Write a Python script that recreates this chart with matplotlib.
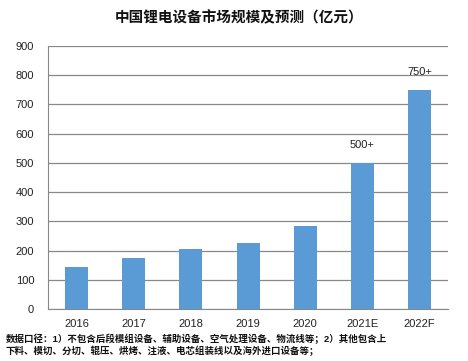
import matplotlib
matplotlib.use("Agg")
import matplotlib.pyplot as plt

plt.rcParams['font.family'] = ['Liberation Sans', 'Noto Sans CJK SC', 'DejaVu Sans']

years = ["2016", "2017", "2018", "2019", "2020", "2021E", "2022F"]
values = [144, 174, 205, 225, 283, 500, 750]
labels = {5: "500+", 6: "750+"}
yticks = [0, 100, 200, 300, 400, 500, 600, 700, 800, 900]

title = "中国锂电设备市场规模及预测（亿元）"
note = ("数据口径：1）不包含后段模组设备、辅助设备、空气处理设备、物流线等；2）其他包含上\n"
        "下料、模切、分切、辊压、烘烤、注液、电芯组装线以及海外进口设备等；")

fig = plt.figure(figsize=(4.68, 3.61), dpi=100)
ax = fig.add_axes([0.1026, 0.144, 0.855, 0.729])

x = range(len(years))
ax.bar(x, values, width=0.4, color="#5B9BD5", zorder=3)
for i, t in labels.items():
    ax.annotate(t, (i, values[i]), xytext=(0, 9), textcoords="offset points",
                ha="center", va="bottom", fontsize=8, color="#222222")

ax.set_xlim(-0.5, len(years) - 0.5)
ax.set_ylim(0, 900)
ax.set_yticks(yticks)
ax.set_xticks(list(x))
ax.set_xticklabels(years)
ax.tick_params(axis="both", length=0, labelsize=8, colors="#222222")
ax.tick_params(axis="x", pad=7)
ax.tick_params(axis="y", pad=10)
ax.grid(axis="y", color="#888888", linewidth=0.9, zorder=0)
for s in ["top", "right"]:
    ax.spines[s].set_visible(False)
ax.spines["left"].set_color("#888888")
ax.spines["bottom"].set_color("#888888")

fig.text(0.51, 0.95, title, ha="center", va="center", fontsize=10.5,
         fontweight="bold", color="#111111")
fig.text(0.012, 0.044, note, ha="left", va="center", fontsize=6.8,
         fontweight="bold", color="#111111", linespacing=1.2)

fig.savefig("out.png", dpi=100)
